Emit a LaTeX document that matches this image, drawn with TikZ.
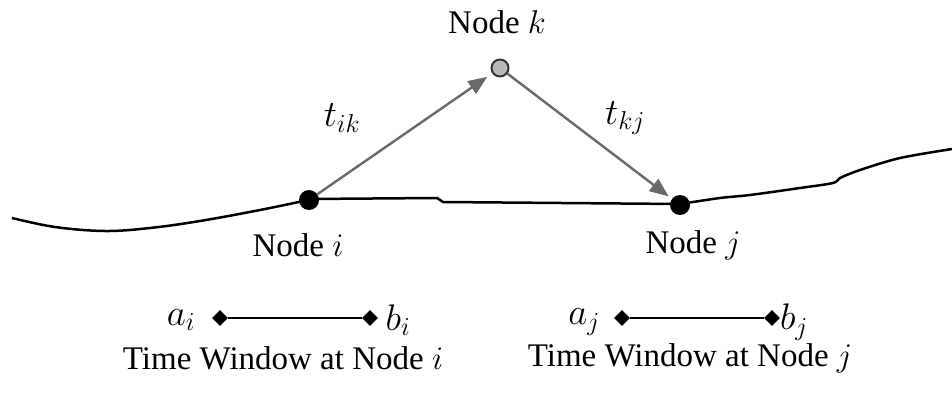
\documentclass[tikz,border=0pt]{standalone}
\usepackage{fix-cm}
\usepackage{fontspec}
\setmainfont{Liberation Serif}
\usetikzlibrary{arrows.meta,shapes.geometric}
\definecolor{arrowgray}{RGB}{105,105,105}
\definecolor{kfill}{RGB}{185,185,185}
\begin{document}
\begin{tikzpicture}[x=1pt,y=-1pt,
  lbl/.style={font=\fontsize{33}{40}\selectfont, inner sep=0pt},
  mlbl/.style={font=\fontsize{37}{44}\selectfont, inner sep=0pt},
  blackdot/.style={circle, fill=black, minimum size=20pt, inner sep=0pt},
  graydot/.style={circle, fill=kfill, draw=black!80, line width=2pt, minimum size=17pt, inner sep=0pt},
  road/.style={line width=2.5pt, black},
  travel/.style={line width=2.4pt, arrowgray, -{Triangle[length=19pt,width=15pt]}},
  tip/.style={diamond, fill=black, minimum width=16pt, minimum height=16pt, inner sep=0pt},
  window/.style={line width=2.6pt, black}]
\useasboundingbox (0,0) rectangle (952,398);
% road
\draw[road] plot[smooth, tension=0.6] coordinates {(12,218) (55,227) (105,231) (150,228) (200,221) (260,210) (308,200)};
\draw[road] (308,199) -- (437,198) -- (443,202) -- (680,204);
\draw[road] plot[smooth, tension=0.5] coordinates {(680,204) (720,198) (750,195) (800,188) (833,183) (840,178) (860,170) (900,158) (952,149)};
% nodes
\node[blackdot] (i) at (309,200) {};
\node[blackdot] (j) at (680,205) {};
\node[graydot] (k) at (500,68) {};
\draw[travel, shorten >=6pt] (i) -- (k);
\draw[travel, shorten >=4pt] (k) -- (j);
% labels
\node[lbl] (lk) at (497,22) {Node $k$};
\node[lbl] (li) at (298,245) {Node $i$};
\node[lbl] (lj) at (693,245) {Node $j$};
\node[mlbl] (tik) at (342,118) {$t_{ik}$};
\node[mlbl] (tkj) at (625,118) {$t_{kj}$};
% time windows
\node[tip] (ail) at (220,318) {};
\node[tip] (bir) at (370,318) {};
\draw[window] (ail) -- (bir);
\node[mlbl] (ai) at (181,320) {$a_i$};
\node[mlbl] (bi) at (398,320) {$b_i$};
\node[tip] (ajl) at (622,318) {};
\node[tip] (bjr) at (772,318) {};
\draw[window] (ajl) -- (bjr);
\node[mlbl] (aj) at (584,322) {$a_j$};
\node[mlbl] (bj) at (794,322) {$b_j$};
\node[lbl] (twi) at (283,358) {Time Window at Node $i$};
\node[lbl] (twj) at (690,358) {Time Window at Node $j$};
\end{tikzpicture}
\end{document}
